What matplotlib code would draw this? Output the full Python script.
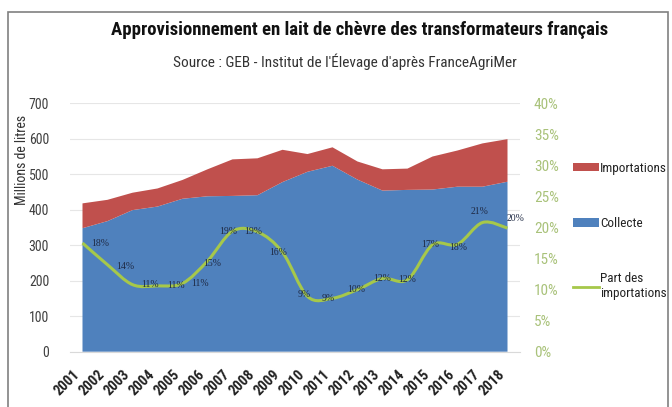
import matplotlib
matplotlib.use("Agg")
import matplotlib.pyplot as plt
import numpy as np
from matplotlib.path import Path
from matplotlib.patches import PathPatch, Patch, Rectangle
from matplotlib.lines import Line2D

plt.rcParams['font.family'] = ['Roboto Condensed', 'Liberation Sans Narrow', 'DejaVu Sans']

# data
years = [str(y) for y in range(2001, 2019)]
collecte = [348, 368, 399, 409, 431, 438, 439, 441, 478, 507, 524, 485, 454, 456, 457, 465, 465, 479]
importations = [70, 60, 49, 51, 53, 76, 103, 104, 91, 50, 52, 51, 60, 60, 93, 102, 122, 120]
part = [17.5, 14.0, 10.8, 10.6, 11.0, 14.6, 19.4, 19.3, 16.0, 8.9, 8.6, 10.0, 11.8, 11.6, 17.2, 17.3, 20.8, 19.9]
part_labels = ["18%", "14%", "11%", "11%", "11%", "15%", "19%", "19%", "16%", "9%", "9%",
               "10%", "12%", "12%", "17%", "18%", "21%", "20%"]

# label nudges in pixels (styling only)
lab_dx = [18, 18, 18, 18, 18, 5, -4, -4, -4, -3, -4, -1, 0, 0, -2, 1, -3, 8]
lab_dy = [0, -2, 0, 0, 0, -2, 0, 0, 0, 2, 0, 0, 0, 0, 0, -3, 11, 10]

RED = '#C0504D'
BLUE = '#4F81BD'
GREEN = '#A6C84A'
TICKGREEN = '#A9C27A'

fig = plt.figure(figsize=(6.72, 4.07), dpi=100)
ax = fig.add_axes([70 / 672, 1 - 351.7 / 407, 450 / 672, 248.4 / 407])
ax2 = ax.twinx()

x = np.arange(len(years))
ax.stackplot(x, collecte, importations, colors=[BLUE, RED], linewidth=0)
ax.set_xlim(-0.5, len(years) - 0.5)
ax.set_ylim(0, 700)
ax.set_yticks(range(0, 701, 100))
ax.grid(axis='y', color='#E6E6E6', lw=0.8)
ax.set_axisbelow(True)
for s in ['top', 'right', 'left']:
    ax.spines[s].set_visible(False)
ax.spines['bottom'].set_color('#D9D9D9')
ax.tick_params(axis='y', length=0, pad=15, labelsize=10, labelcolor='#404040')
ax.set_xticks(x)
ax.set_xticklabels(years, rotation=45, ha='right', fontsize=10.5, fontweight='bold', color='#222222')
ax.tick_params(axis='x', length=0, pad=11)

# smoothed share line (catmull-rom -> bezier, like Excel smoothing)
pts = np.column_stack([x, part]).astype(float)
verts = [tuple(pts[0])]
codes = [Path.MOVETO]
for i in range(len(pts) - 1):
    p0 = pts[max(i - 1, 0)]
    p1 = pts[i]
    p2 = pts[i + 1]
    p3 = pts[min(i + 2, len(pts) - 1)]
    c1 = p1 + (p2 - p0) / 6
    c2 = p2 - (p3 - p1) / 6
    verts += [tuple(c1), tuple(c2), tuple(p2)]
    codes += [Path.CURVE4] * 3
ax2.add_patch(PathPatch(Path(verts, codes), fill=False, edgecolor=GREEN, lw=2.2))
ax2.set_ylim(0, 40)
ax2.set_yticks(range(0, 41, 5))
ax2.set_yticklabels([f"{v}%" for v in range(0, 41, 5)])
ax2.tick_params(axis='y', length=0, pad=10, labelsize=11, labelcolor=TICKGREEN)
for s in ['top', 'right', 'left', 'bottom']:
    ax2.spines[s].set_visible(False)

for i, lab in enumerate(part_labels):
    ax2.annotate(lab, (x[i], part[i]), xytext=(lab_dx[i], lab_dy[i]), textcoords='offset pixels',
                 ha='center', va='center', fontsize=7, family='Liberation Serif', color='#1F2A44')

fig.text(0.535, 0.926, "Approvisionnement en lait de chèvre des transformateurs français",
         ha='center', va='center', fontsize=13.5, fontweight='bold', color='#111111')
fig.text(0.513, 0.848, "Source : GEB - Institut de l'Élevage d'après FranceAgriMer",
         ha='center', va='center', fontsize=11, color='#333333')
fig.text(0.032, 0.607, "Millions de litres", rotation=90, ha='center', va='center',
         fontsize=10, color='#333333')

handles = [Patch(facecolor=RED), Patch(facecolor=BLUE), Line2D([], [], color=GREEN, lw=2)]
fig.legend(handles, ["Importations", "Collecte", "Part des\nimportations"],
           loc='upper left', bbox_to_anchor=(561 / 672, 1 - 150 / 407), frameon=False,
           fontsize=9.5, labelspacing=3.2, handlelength=2.0, handleheight=0.6, handletextpad=0.05,
           labelcolor='#222222')

fig.add_artist(Rectangle((8 / 672, -0.02), 660 / 672, 1.02 - 12 / 407, transform=fig.transFigure,
                         fill=False, edgecolor='#808080', lw=1.2))

fig.savefig("out.png", dpi=100)
